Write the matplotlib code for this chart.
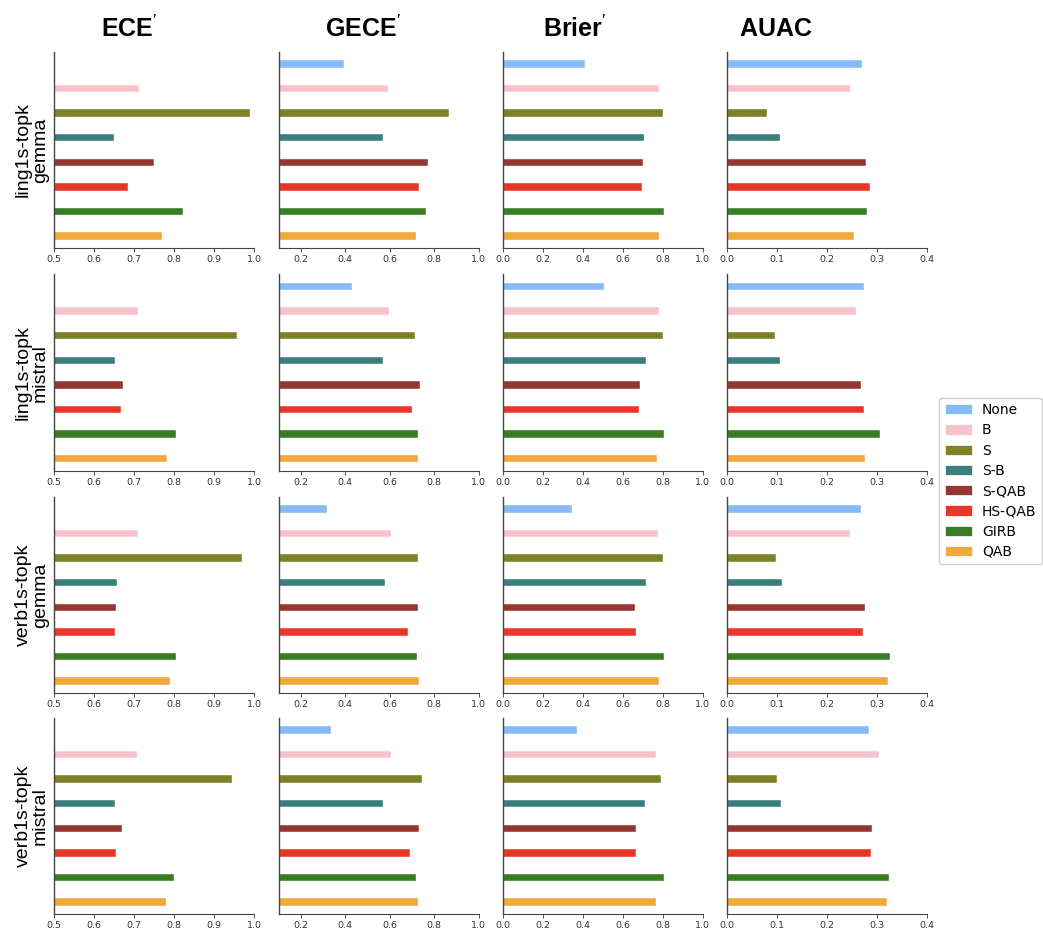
import matplotlib
matplotlib.use("Agg")
import matplotlib.pyplot as plt
from matplotlib.patches import Patch
import numpy as np

methods = ["None", "B", "S", "S-B", "S-QAB", "HS-QAB", "GIRB", "QAB"]
colors = ["#87BAF7", "#F6C3CC", "#808027", "#3A7E7B", "#963633", "#EA3628", "#387D22", "#F0A93D"]

metrics = ["ECE", "GECE", "Brier", "AUAC"]
settings = ["ling1s-topk\ngemma", "ling1s-topk\nmistral", "verb1s-topk\ngemma", "verb1s-topk\nmistral"]

# values per setting, one list per metric, ordered as `methods`
ling_gemma_ece = [0.45, 0.713, 0.991, 0.650, 0.750, 0.686, 0.823, 0.770]
ling_gemma_gece = [0.392, 0.594, 0.866, 0.568, 0.770, 0.731, 0.764, 0.720]
ling_gemma_brier = [0.410, 0.779, 0.800, 0.708, 0.701, 0.698, 0.804, 0.781]
ling_gemma_auac = [0.270, 0.246, 0.080, 0.105, 0.278, 0.286, 0.280, 0.253]

ling_mistral_ece = [0.45, 0.709, 0.958, 0.652, 0.673, 0.668, 0.805, 0.782]
ling_mistral_gece = [0.432, 0.598, 0.714, 0.571, 0.735, 0.702, 0.729, 0.726]
ling_mistral_brier = [0.508, 0.779, 0.800, 0.716, 0.684, 0.683, 0.804, 0.772]
ling_mistral_auac = [0.273, 0.258, 0.095, 0.105, 0.268, 0.274, 0.305, 0.275]

verb_gemma_ece = [0.45, 0.711, 0.971, 0.657, 0.656, 0.652, 0.805, 0.789]
verb_gemma_gece = [0.319, 0.605, 0.729, 0.579, 0.729, 0.684, 0.723, 0.731]
verb_gemma_brier = [0.347, 0.777, 0.800, 0.714, 0.663, 0.666, 0.804, 0.779]
verb_gemma_auac = [0.267, 0.245, 0.097, 0.109, 0.275, 0.272, 0.325, 0.321]

verb_mistral_ece = [0.45, 0.707, 0.946, 0.653, 0.670, 0.655, 0.800, 0.781]
verb_mistral_gece = [0.337, 0.605, 0.746, 0.571, 0.731, 0.689, 0.719, 0.729]
verb_mistral_brier = [0.372, 0.767, 0.792, 0.711, 0.668, 0.668, 0.804, 0.767]
verb_mistral_auac = [0.284, 0.303, 0.100, 0.107, 0.289, 0.288, 0.323, 0.320]

grid = [
    [ling_gemma_ece, ling_gemma_gece, ling_gemma_brier, ling_gemma_auac],
    [ling_mistral_ece, ling_mistral_gece, ling_mistral_brier, ling_mistral_auac],
    [verb_gemma_ece, verb_gemma_gece, verb_gemma_brier, verb_gemma_auac],
    [verb_mistral_ece, verb_mistral_gece, verb_mistral_brier, verb_mistral_auac],
]

xlims = [(0.5, 1.0), (0.1, 1.0), (0.0, 1.0), (0.0, 0.4)]
xticks = [np.arange(0.5, 1.01, 0.1), np.arange(0.2, 1.01, 0.2),
          np.arange(0.0, 1.01, 0.2), np.arange(0.0, 0.41, 0.1)]

W, H = 1043, 934
fig = plt.figure(figsize=(W / 100, H / 100), dpi=100)

col_left = [54, 278.7, 502.7, 727.3]
row_top = [51.7, 274.3, 496.7, 717.7]
ax_w, ax_h = 200, 196.6

ypos = np.arange(len(methods))
for r in range(4):
    for c in range(4):
        ax = fig.add_axes([col_left[c] / W, 1 - (row_top[r] + ax_h) / H, ax_w / W, ax_h / H])
        ax.barh(ypos, grid[r][c], height=0.3, color=colors,
                edgecolor="#ffffff", linewidth=0.3)
        ax.set_xlim(*xlims[c])
        ax.set_ylim(7.5, -0.5)
        ax.set_xticks(xticks[c])
        ax.set_xticklabels([f"{t:.1f}" for t in xticks[c]], fontsize=6.8)
        ax.set_yticks([])
        ax.spines["top"].set_visible(False)
        ax.spines["right"].set_visible(False)
        ax.spines["left"].set_color("#444444")
        ax.spines["bottom"].set_color("#444444")
        ax.spines["left"].set_linewidth(1.0)
        ax.spines["bottom"].set_linewidth(0.8)
        ax.tick_params(axis="x", length=3, width=0.6, pad=2, colors="#333333")
    fig.text(32 / W, 1 - (row_top[r] + ax_h / 2) / H, settings[r],
             rotation=90, ha="center", va="center", multialignment="center",
             fontsize=14, family="Liberation Sans", linespacing=1.0)

titles = [r"$\mathbf{ECE}^{\prime}$", r"$\mathbf{GECE}^{\prime}$",
          r"$\mathbf{Brier}^{\prime}$", r"$\mathbf{AUAC}$"]
title_x = [129, 363, 575, 776]
plt.rcParams["mathtext.fontset"] = "custom"
plt.rcParams["mathtext.bf"] = "Liberation Sans:bold"
plt.rcParams["mathtext.rm"] = "Liberation Sans"
for t, x in zip(titles, title_x):
    fig.text(x / W, 1 - 29 / H, t, ha="center", va="center", fontsize=18)

handles = [Patch(facecolor=col, edgecolor="white", linewidth=0.5, label=m)
           for m, col in zip(methods, colors)]
fig.legend(handles=handles, loc="center left",
           bbox_to_anchor=(939 / W, 1 - 481 / H), borderaxespad=0.0,
           fontsize=10, handlelength=2.0, handleheight=0.75,
           handletextpad=0.7, labelspacing=0.45, borderpad=0.4,
           framealpha=1.0, edgecolor="#cccccc")

fig.savefig("out.png", dpi=100)
